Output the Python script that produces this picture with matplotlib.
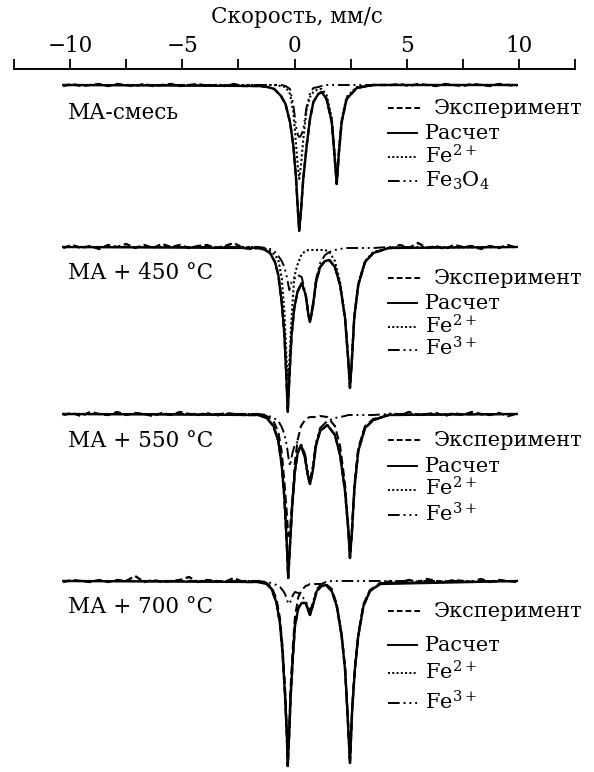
import numpy as np
import matplotlib.pyplot as plt
from matplotlib.lines import Line2D

plt.rcParams['font.family'] = ['DejaVu Serif']
plt.rcParams['mathtext.fontset'] = 'dejavuserif'

# velocity channels for the baseline noise of the experiment (mm/s)
noise_v_left = [-10.3, -9.9, -9.5, -9.1, -8.7, -8.3, -7.9, -7.5, -7.1, -6.7, -6.3,
                -5.9, -5.5, -5.1, -4.7, -4.3, -3.9, -3.5, -3.1, -2.7, -2.3, -1.9]
noise_v_right = [4.3, 4.7, 5.1, 5.5, 5.9, 6.3, 6.7, 7.1, 7.5, 7.9, 8.3, 8.7, 9.1, 9.5, 9.9]

# --- MA mixture: absorption (%) ---
s1_v = [-10.3, -1.6, -1.2, -0.9, -0.6, -0.4, -0.2, -0.05, 0.07, 0.15, 0.21, 0.28, 0.39, 0.54,
        0.69, 0.84, 1.06, 1.21, 1.43, 1.66, 1.77, 1.88, 1.98, 2.10, 2.32, 2.77, 3.5, 9.9]
s1_calc = [0, 0.1, 0.2, 0.4, 1.1, 1.9, 3.7, 6.1, 9.4, 12.5, 14.6, 12.8, 9.4, 6.1,
           3.4, 1.7, 0.9, 0.7, 1.4, 3.7, 6.7, 9.9, 6.7, 3.7, 1.4, 0.3, 0, 0]
s1_fe2 = [0, 0, 0, 0, 0.1, 0.2, 0.9, 2.7, 6.0, 8.2, 9.4, 8.2, 5.5, 2.4,
          1.2, 0.7, 0.4, 0.4, 1.0, 3.3, 6.4, 9.7, 6.4, 3.4, 1.2, 0.2, 0, 0]
s1_fe3 = [0, 0, 0, 0, 0, 0.1, 0.4, 2.0, 4.2, 5.0, 5.2, 5.1, 4.5, 2.2,
          0.8, 0.3, 0.2, 0.1, 0, 0, 0, 0, 0, 0, 0, 0, 0, 0]
s1_noise_left = [0.1, -0.1, 0.1, 0, -0.1, 0.1, -0.1, 0, 0.1, -0.1, 0.1, 0, -0.1, 0.1, 0,
                 -0.1, 0.1, 0, 0.1, -0.1, 0.1, 0.1]
s1_noise_right = [0, -0.1, 0.1, -0.1, 0, 0.1, -0.1, 0, 0.1, -0.1, 0, 0.1, -0.1, 0, 0.1]

# --- MA + 450 C ---
s2_v = [-10.3, -1.6, -1.3, -1.09, -0.87, -0.72, -0.57, -0.45, -0.36, -0.30, -0.23, -0.13,
        -0.01, 0.13, 0.32, 0.50, 0.62, 0.69, 0.81, 0.96, 1.14, 1.36, 1.55, 1.80, 2.03,
        2.25, 2.40, 2.47, 2.55, 2.66, 2.84, 3.14, 3.51, 4.2, 9.9]
s2_calc = [0, 0.1, 0.3, 0.6, 1.5, 2.8, 5.5, 8.8, 13.1, 16.5, 13.1, 8.8,
           6.1, 4.5, 3.6, 4.8, 6.8, 7.5, 6.1, 3.5, 2.0, 1.4, 1.3, 2.0, 3.8,
           7.1, 11.5, 14.1, 11.5, 7.1, 3.8, 1.5, 0.6, 0.1, 0]
s2_fe2 = [0, 0, 0.2, 0.4, 0.8, 1.3, 3.1, 6.5, 11.0, 13.2, 11.5, 7.0,
          3.0, 1.8, 0.7, 0.4, 0.3, 0.3, 0.3, 0.3, 0.3, 0.3, 0.5, 1.4, 3.5,
          7.0, 11.4, 14.0, 11.4, 7.0, 3.6, 1.4, 0.5, 0.1, 0]
s2_fe3 = [0, 0, 0.1, 0.2, 0.5, 0.9, 1.4, 2.0, 2.8, 3.5, 4.3, 3.5,
          3.2, 2.8, 3.0, 4.8, 6.6, 7.2, 5.8, 3.2, 1.6, 0.8, 0.5, 0.3, 0.2,
          0.1, 0.1, 0.1, 0.1, 0.1, 0.1, 0.1, 0.1, 0, 0]
s2_noise_left = [0.1, -0.2, 0.1, -0.1, 0.2, -0.2, 0, -0.3, 0.1, -0.2, 0.1, -0.3, 0, -0.2,
                 0.1, -0.1, -0.2, 0.1, -0.1, -0.4, 0.1, 0.2]
s2_noise_right = [0.1, -0.2, 0.1, -0.4, 0.1, -0.1, 0.2, -0.2, 0, -0.1, 0.2, -0.1, 0.1, -0.2, 0.1]

# --- MA + 550 C ---
s3_v = [-10.3, -1.6, -1.24, -0.94, -0.72, -0.57, -0.45, -0.34, -0.28, -0.20, -0.10, 0.02,
        0.14, 0.29, 0.47, 0.59, 0.69, 0.81, 0.96, 1.14, 1.46, 1.80, 2.03, 2.25, 2.40,
        2.47, 2.56, 2.67, 2.84, 3.14, 3.51, 4.2, 9.9]
s3_calc = [0, 0.1, 0.4, 1.2, 2.7, 5.1, 8.4, 13.1, 16.4, 13.1, 9.1, 5.7,
           3.9, 3.1, 4.4, 6.1, 7.0, 5.7, 3.1, 1.7, 1.1, 2.1, 4.1, 7.7, 11.7,
           14.4, 11.7, 7.4, 3.7, 1.4, 0.6, 0.1, 0]
s3_fe2 = [0, 0, 0.2, 0.7, 1.8, 3.8, 6.8, 10.0, 12.2, 11.5, 8.8, 4.8,
          2.6, 1.2, 0.6, 0.4, 0.3, 0.3, 0.3, 0.2, 0.3, 1.2, 3.2, 7.0, 11.4,
          14.2, 11.4, 7.0, 3.4, 1.2, 0.5, 0.1, 0]
s3_fe3 = [0, 0, 0.1, 0.4, 0.7, 1.3, 2.0, 3.2, 4.2, 5.2, 4.0, 3.0,
          2.8, 3.0, 4.0, 5.7, 6.6, 5.2, 2.8, 1.4, 0.7, 0.4, 0.3, 0.2, 0.1,
          0.1, 0.1, 0.1, 0.1, 0.1, 0.1, 0, 0]
s3_noise_left = [0.1, -0.1, 0.2, -0.2, 0, 0.1, -0.2, 0.1, -0.1, 0, 0.2, -0.1, 0.1, -0.2, 0,
                 0.1, -0.1, 0.2, -0.1, 0, 0.1, 0.1]
s3_noise_right = [-0.1, 0.1, -0.2, 0.1, 0, -0.1, 0.2, -0.1, 0.1, -0.2, 0, 0.1, -0.1, 0.2, 0]

# --- MA + 700 C ---
s4_v = [-10.3, -1.6, -1.24, -1.02, -0.80, -0.65, -0.53, -0.42, -0.34, -0.30, -0.24, -0.17,
        -0.07, 0.02, 0.17, 0.32, 0.50, 0.62, 0.69, 0.81, 0.99, 1.21, 1.40, 1.66, 1.88,
        2.10, 2.25, 2.35, 2.47, 2.57, 2.69, 2.84, 3.07, 3.36, 3.81, 9.9]
s4_calc = [0, 0.1, 0.3, 0.8, 2.2, 4.2, 7.2, 11.5, 15.5, 18.5, 15.5, 11.5,
           7.5, 4.5, 2.7, 2.2, 2.2, 3.0, 3.4, 2.5, 1.0, 0.5, 0.4, 1.0, 2.5,
           5.5, 8.8, 12.8, 18.2, 12.8, 8.8, 5.5, 2.5, 1.0, 0.3, 0]
s4_fe2 = [0, 0, 0.2, 0.6, 1.8, 3.7, 6.6, 10.8, 14.8, 17.5, 14.8, 10.5,
          6.4, 3.6, 1.6, 0.9, 0.5, 0.4, 0.3, 0.3, 0.3, 0.3, 0.3, 0.8, 2.3,
          5.3, 8.6, 12.6, 18.0, 12.6, 8.6, 5.3, 2.3, 0.9, 0.2, 0]
s4_fe3 = [0, 0, 0.1, 0.2, 0.4, 0.6, 0.9, 1.3, 1.8, 2.1, 2.3, 2.0,
          1.4, 1.1, 1.2, 1.5, 2.0, 2.7, 3.0, 2.2, 0.8, 0.3, 0.1, 0, 0,
          0, 0, 0, 0, 0, 0, 0, 0, 0, 0, 0]
s4_noise_left = [0.1, -0.1, 0, 0.1, -0.1, 0.1, -0.1, 0, -0.5, 0.1, -0.1, 0.1, 0, -0.1, -0.4,
                 0.1, -0.1, 0, 0.1, -0.3, 0.1, 0.1]
s4_noise_right = [0, 0.1, -0.1, 0.1, -0.2, 0, 0.1, -0.1, 0, 0.1, -0.2, 0.1, -0.1, 0, 0.1]

sample_labels = ['МА-смесь', 'МА + 450 °С', 'МА + 550 °С', 'МА + 700 °С']
third_labels = ['Fe$_3$O$_4$', 'Fe$^{3+}$', 'Fe$^{3+}$', 'Fe$^{3+}$']
xticks_major = [-10, -5, 0, 5, 10]
xticks_minor = [-12.5, -7.5, -2.5, 2.5, 7.5, 12.5]

spectra = [
    (s1_v, s1_calc, s1_fe2, s1_fe3, s1_noise_left, s1_noise_right),
    (s2_v, s2_calc, s2_fe2, s2_fe3, s2_noise_left, s2_noise_right),
    (s3_v, s3_calc, s3_fe2, s3_fe3, s3_noise_left, s3_noise_right),
    (s4_v, s4_calc, s4_fe2, s4_fe3, s4_noise_left, s4_noise_right),
]

# layout (pixels of the 594x772 figure)
W, H = 594, 772
offsets = [0, -16.2, -32.9, -49.6]
label_y = [112, 272, 440, 606]
legend_rows = [[108, 133, 157, 181], [278, 303, 327, 350],
               [440, 466, 490, 515], [611, 645, 673, 703]]
dotted = (0, (1, 1.2))
fe2_style = [dotted, dotted, (0, (4, 2)), (0, (4, 2))]
dashdot = (0, (6, 2, 1, 2, 1, 2))
exp_dash = (0, (3, 1.5))
LW = 1.7


def fx(x):
    return x / W


def fy(y):
    return 1 - y / H


fig = plt.figure(figsize=(W / 100, H / 100), dpi=100)
ax = fig.add_axes([fx(13.8), 0, fx(575.2) - fx(13.8), fy(69)])
ax.set_xlim(-12.5, 12.5)
ax.set_ylim(-68.7, 1.6)

for k, (v, calc, fe2, fe3, nl, nr) in enumerate(spectra):
    off = offsets[k]
    ax.plot(v, off - np.array(fe3), color='black', lw=1.4, linestyle=dashdot)
    ax.plot(v, off - np.array(fe2), color='black', lw=1.5, linestyle=fe2_style[k])
    exp_v = noise_v_left + v[1:-1] + noise_v_right
    exp_d = nl + calc[1:-1] + nr
    ax.plot(exp_v, off - np.array(exp_d), color='black', lw=LW, linestyle=exp_dash)
    ax.plot(v, off - np.array(calc), color='black', lw=LW)

    fig.text(fx(68), fy(label_y[k] + 7), sample_labels[k], fontsize=15.5, va='baseline')

    rows = legend_rows[k]
    styles = [exp_dash, '-', dotted, dashdot]
    ends = [423, 417, 417, 417]
    texts = ['Эксперимент', 'Расчет', 'Fe$^{2+}$', third_labels[k]]
    tx = [434, 425, 425, 425]
    for r in range(4):
        fig.add_artist(Line2D([fx(388), fx(ends[r])], [fy(rows[r]), fy(rows[r])],
                              transform=fig.transFigure, color='black', lw=1.4,
                              linestyle=styles[r]))
        fig.text(fx(tx[r]), fy(rows[r] + 6), texts[r], fontsize=15, va='baseline')

# top velocity axis only
for side in ['bottom', 'left', 'right']:
    ax.spines[side].set_visible(False)
ax.spines['top'].set_linewidth(1.4)
ax.xaxis.tick_top()
ax.set_xticks(xticks_major)
ax.set_xticks(xticks_minor, minor=True)
ax.tick_params(axis='x', which='both', direction='out', length=7, width=1.3,
               labelsize=15.5, pad=2)
ax.set_yticks([])
fig.text(0.5, fy(17), 'Скорость, мм/с', fontsize=15.5, ha='center', va='center')

fig.savefig('out.png', dpi=100)
